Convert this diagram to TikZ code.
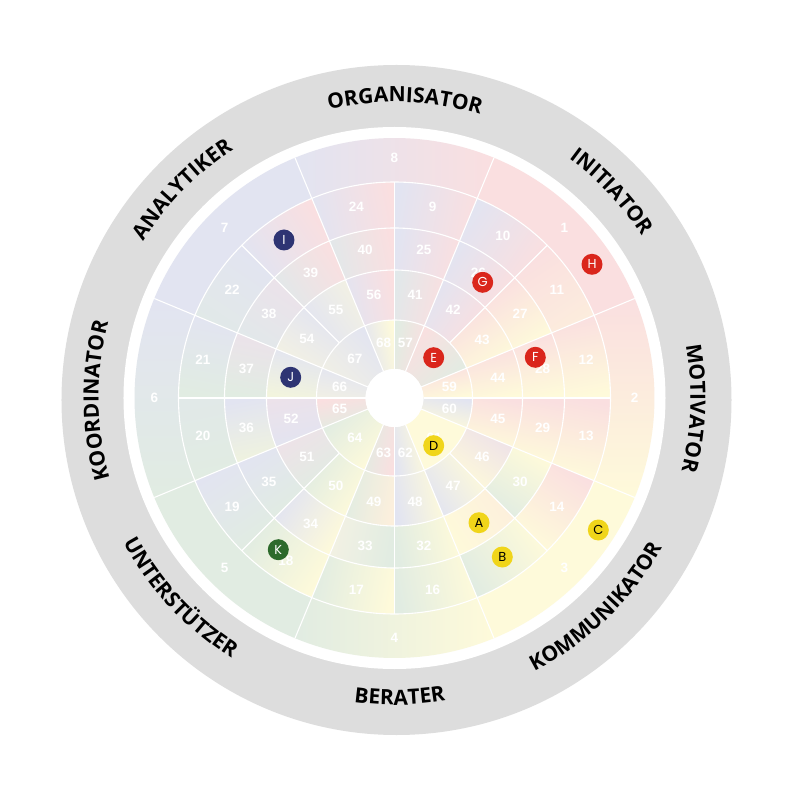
\documentclass[tikz,border=0pt]{standalone}
\usepackage{fontspec}
\setmainfont{Liberation Sans}
\newfontfamily\ringfamily{Open Sans}
\newfontfamily\badgefamily{Poppins}
\usetikzlibrary{decorations.text}

\definecolor{wr}{RGB}{250,223,224}
\definecolor{wb}{RGB}{226,228,241}
\definecolor{wg}{RGB}{225,236,226}
\definecolor{wy}{RGB}{254,250,218}
\definecolor{ringgray}{RGB}{221,221,221}
\definecolor{badgered}{RGB}{218,38,28}
\definecolor{badgeblue}{RGB}{46,52,115}
\definecolor{badgegreen}{RGB}{45,106,44}
\definecolor{badgeyellow}{RGB}{240,213,26}

% cell: inner radius, outer radius, start angle, end angle, colour at start, colour at end, number
\newcommand{\ringcell}[7]{%
  \pgfmathsetmacro{\cellmid}{(#3+#4)/2}%
  \pgfmathsetmacro{\cellrad}{0.45*#1+0.55*#2}%
  \path [bottom color=#5, top color=#6, shading angle=\cellmid] (#3:#1) arc[start angle=#3, end angle=#4, radius=#1] -- (#4:#2) arc[start angle=#4, end angle=#3, radius=#2] -- cycle;
  \node [cellnum] (c#7) at (\cellmid:\cellrad) {#7};
}

\begin{document}
\begin{tikzpicture}[x=1pt,y=1pt,
  cellnum/.style={text=white, font=\bfseries\fontsize{13.5}{13.5}\selectfont, inner sep=0pt},
  spoke/.style={draw=white, line width=1.1},
  badge/.style={circle, minimum size=21, inner sep=0pt, font=\badgefamily\fontsize{13}{13}\selectfont},
  roletext/.style={decorate, decoration={text along path, text align=center, text={|\ringfamily\bfseries\fontsize{21}{24}\selectfont|#1}}}]

\useasboundingbox [fill=white] (-394.5,-402) rectangle (405.5,398);

% rings
\fill [ringgray] (2,-2) circle[radius=335];
\fill [white] (0,0) circle[radius=271];

% outer ring
\ringcell{216}{260}{67.5}{112.5}{wr}{wb}{8}
\ringcell{216}{260}{22.5}{67.5}{wr}{wr}{1}
\ringcell{216}{260}{-22.5}{22.5}{wy}{wr}{2}
\ringcell{216}{260}{-67.5}{-22.5}{wy}{wy}{3}
\ringcell{216}{260}{-112.5}{-67.5}{wg}{wy}{4}
\ringcell{216}{260}{-157.5}{-112.5}{wg}{wg}{5}
\ringcell{216}{260}{157.5}{202.5}{wb}{wg}{6}
\ringcell{216}{260}{112.5}{157.5}{wb}{wb}{7}

% second ring
\ringcell{170}{216}{67.5}{90}{wr}{wb}{9}
\ringcell{170}{216}{45}{67.5}{wr}{wb}{10}
\ringcell{170}{216}{22.5}{45}{wy!50!wr}{wr}{11}
\ringcell{170}{216}{0}{22.5}{wy}{wr}{12}
\ringcell{170}{216}{-22.5}{0}{wy}{wr}{13}
\ringcell{170}{216}{-45}{-22.5}{wy}{wr}{14}
\ringcell{170}{216}{-67.5}{-45}{wg}{wy}{15}
\ringcell{170}{216}{-90}{-67.5}{wg}{wy}{16}
\ringcell{170}{216}{-112.5}{-90}{wg}{wy}{17}
\ringcell{170}{216}{-135}{-112.5}{wg}{wy}{18}
\ringcell{170}{216}{-157.5}{-135}{wb}{wg}{19}
\ringcell{170}{216}{-180}{-157.5}{wb!40!wg}{wg}{20}
\ringcell{170}{216}{157.5}{180}{wb}{wg}{21}
\ringcell{170}{216}{135}{157.5}{wb}{wg!60!wb}{22}
\ringcell{170}{216}{112.5}{135}{wr}{wb}{23}
\ringcell{170}{216}{90}{112.5}{wr}{wb}{24}

% third ring
\ringcell{128}{170}{67.5}{90}{wr}{wb}{25}
\ringcell{128}{170}{45}{67.5}{wr}{wb}{26}
\ringcell{128}{170}{22.5}{45}{wy}{wr}{27}
\ringcell{128}{170}{0}{22.5}{wy}{wr}{28}
\ringcell{128}{170}{-22.5}{0}{wy}{wr}{29}
\ringcell{128}{170}{-45}{-22.5}{wg}{wy}{30}
\ringcell{128}{170}{-67.5}{-45}{wy}{wr!40!wy}{31}
\ringcell{128}{170}{-90}{-67.5}{wg}{wy}{32}
\ringcell{128}{170}{-112.5}{-90}{wy!60!wb}{wg}{33}
\ringcell{128}{170}{-135}{-112.5}{wb}{wy}{34}
\ringcell{128}{170}{-157.5}{-135}{wb}{wg}{35}
\ringcell{128}{170}{-180}{-157.5}{wb}{wy!50!wg}{36}
\ringcell{128}{170}{157.5}{180}{wr!40!wb}{wg}{37}
\ringcell{128}{170}{135}{157.5}{wr!40!wb}{wg!50!wb}{38}
\ringcell{128}{170}{112.5}{135}{wr}{wg!50!wb}{39}
\ringcell{128}{170}{90}{112.5}{wr}{wg!50!wb}{40}

% fourth ring
\ringcell{78}{128}{67.5}{90}{wr}{wg!50!wb}{41}
\ringcell{78}{128}{45}{67.5}{wr}{wb}{42}
\ringcell{78}{128}{22.5}{45}{wy}{wr}{43}
\ringcell{78}{128}{0}{22.5}{wy}{wr}{44}
\ringcell{78}{128}{-22.5}{0}{wy}{wr}{45}
\ringcell{78}{128}{-45}{-22.5}{wy}{wr!50!wb}{46}
\ringcell{78}{128}{-67.5}{-45}{wb}{wy}{47}
\ringcell{78}{128}{-90}{-67.5}{wb}{wy}{48}
\ringcell{78}{128}{-112.5}{-90}{wg}{wr!40!wy}{49}
\ringcell{78}{128}{-135}{-112.5}{wg}{wy}{50}
\ringcell{78}{128}{-157.5}{-135}{wr!50!wb}{wg}{51}
\ringcell{78}{128}{-180}{-157.5}{wr!40!wb}{wb}{52}
\ringcell{78}{128}{157.5}{180}{wb}{wy!60!wg}{53}
\ringcell{78}{128}{135}{157.5}{wb}{wy!60!wb}{54}
\ringcell{78}{128}{112.5}{135}{wy!60!wb}{wb}{55}
\ringcell{78}{128}{90}{112.5}{wr}{wb}{56}

% inner ring
\ringcell{29}{78}{67.5}{90}{wr}{wg}{57}
\ringcell{29}{78}{22.5}{67.5}{wg}{wr}{58}
\ringcell{29}{78}{0}{22.5}{wy}{wr}{59}
\ringcell{29}{78}{-22.5}{0}{wy}{wb}{60}
\ringcell{29}{78}{-67.5}{-22.5}{wy}{wy}{61}
\ringcell{29}{78}{-90}{-67.5}{wb}{wy}{62}
\ringcell{29}{78}{-112.5}{-90}{wg}{wr}{63}
\ringcell{29}{78}{-157.5}{-112.5}{wg}{wy}{64}
\ringcell{29}{78}{-180}{-157.5}{wr}{wg}{65}
\ringcell{29}{78}{157.5}{180}{wb}{wy!50!wb}{66}
\ringcell{29}{78}{112.5}{157.5}{wb}{wy!50!wb}{67}
\ringcell{29}{78}{90}{112.5}{wy}{wb}{68}

% white grid
\draw [spoke] (0,0) circle[radius=78];
\draw [spoke] (0,0) circle[radius=128];
\draw [spoke] (0,0) circle[radius=170];
\draw [spoke] (0,0) circle[radius=216];
\draw [spoke] (22.5:29) -- (22.5:260);
\draw [spoke] (67.5:29) -- (67.5:260);
\draw [spoke] (112.5:29) -- (112.5:260);
\draw [spoke] (157.5:29) -- (157.5:260);
\draw [spoke] (202.5:29) -- (202.5:260);
\draw [spoke] (247.5:29) -- (247.5:260);
\draw [spoke] (292.5:29) -- (292.5:260);
\draw [spoke] (337.5:29) -- (337.5:260);
\draw [spoke] (0:29) -- (0:216);
\draw [spoke] (90:29) -- (90:216);
\draw [spoke] (180:29) -- (180:216);
\draw [spoke] (270:29) -- (270:216);
\draw [spoke] (45:78) -- (45:216);
\draw [spoke] (135:78) -- (135:216);
\draw [spoke] (225:78) -- (225:216);
\draw [spoke] (315:78) -- (315:216);
\fill [white] (0,0) circle[radius=29];

% Text Node
\path [roletext=ORGANISATOR] (128:296) arc[start angle=128, end angle=48, radius=296];
\path [roletext=INITIATOR] (83.5:296) arc[start angle=83.5, end angle=3.5, radius=296];
\path [roletext=MOTIVATOR] (38:296) arc[start angle=38, end angle=-42, radius=296];
\path [roletext=KOMMUNIKATOR] (-86:307) arc[start angle=-86, end angle=-6, radius=307];
\path [roletext=BERATER] (-129:307) arc[start angle=-129, end angle=-49, radius=307];
\path [roletext=UNTERSTÜTZER] (-177:307) arc[start angle=-177, end angle=-97, radius=307];
\path [roletext=KOORDINATOR] (220.5:296) arc[start angle=220.5, end angle=140.5, radius=296];
\path [roletext=ANALYTIKER] (175.5:296) arc[start angle=175.5, end angle=95.5, radius=296];

% badges
\node [badge, fill=badgeyellow, text=black] (bA) at (84.5,-124.7) {A};
\node [badge, fill=badgeyellow, text=black] (bB) at (107.8,-159) {B};
\node [badge, fill=badgeyellow, text=black] (bC) at (203.8,-132) {C};
\node [badge, fill=badgeyellow, text=black] (bD) at (39.2,-47.7) {D};
\node [badge, fill=badgered, text=white] (bE) at (39.2,40.3) {E};
\node [badge, fill=badgered, text=white] (bF) at (140.8,40.7) {F};
\node [badge, fill=badgered, text=white] (bG) at (88.2,115.7) {G};
\node [badge, fill=badgered, text=white] (bH) at (197.5,133.7) {H};
\node [badge, fill=badgeblue, text=white] (bI) at (-110.5,158) {I};
\node [badge, fill=badgeblue, text=white] (bJ) at (-103.8,20.7) {J};
\node [badge, fill=badgegreen, text=white] (bK) at (-116.2,-151.7) {K};

\end{tikzpicture}
\end{document}
